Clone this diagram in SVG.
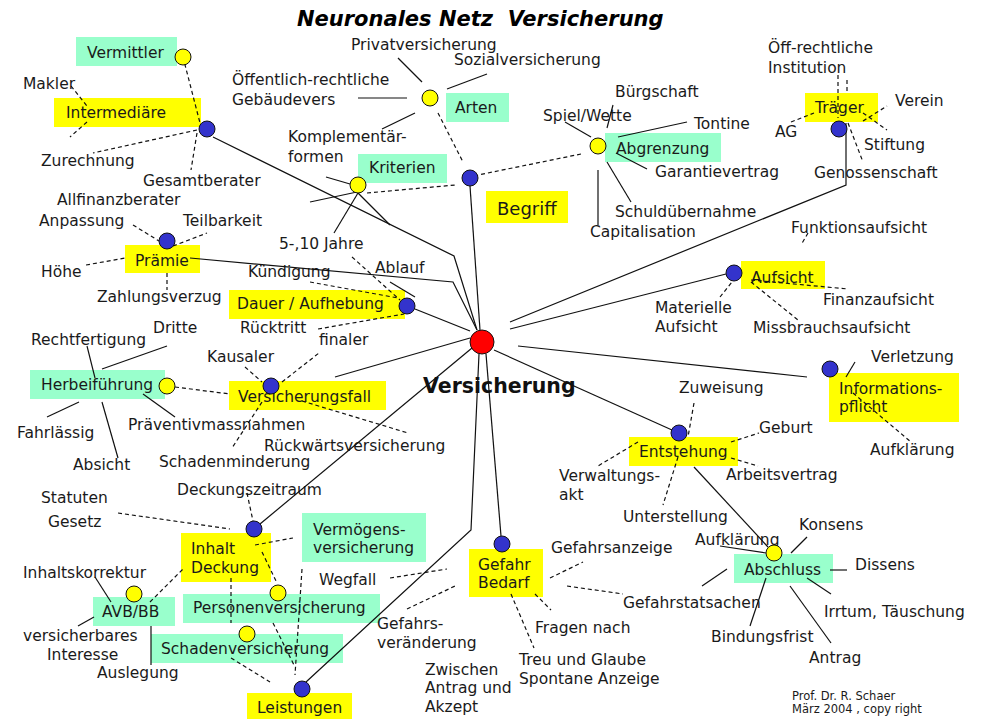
<svg xmlns="http://www.w3.org/2000/svg" width="981" height="719" viewBox="0 0 981 719">
<style>
.t{font-family:"DejaVu Sans",Verdana,sans-serif;font-size:15.5px;fill:#1a1a1a}
.s{font-family:"DejaVu Sans",Verdana,sans-serif;font-size:11.5px;fill:#1a1a1a}
.y{fill:#ffff00}
.c{fill:#99ffcc}
.l{stroke:#111;stroke-width:1.2;fill:none}
.d{stroke:#111;stroke-width:1.2;fill:none;stroke-dasharray:4 3}
.hb{fill:#3333cc;stroke:#111;stroke-width:1}
.hy{fill:#ffff00;stroke:#111;stroke-width:1}
</style>
<rect width="981" height="719" fill="#fff"/>
<text x="297" y="26" style="font-family:'DejaVu Sans',Verdana,sans-serif;font-size:21px;font-weight:bold;font-style:italic" fill="#000">Neuronales Netz&#160; Versicherung</text>

<g id="nodes">
<g id="n-vermittler"><rect class="c" x="76" y="37" width="101" height="29"/><text class="t" x="87" y="58">Vermittler</text></g>
<g id="n-intermediaere"><rect class="y" x="54" y="98" width="147" height="29"/><text class="t" x="66" y="118">Intermediäre</text></g>
<g id="n-arten"><rect class="c" x="446" y="93" width="63" height="29"/><text class="t" x="455" y="113">Arten</text></g>
<g id="n-kriterien"><rect class="c" x="358" y="154" width="89" height="29"/><text class="t" x="369" y="173">Kriterien</text></g>
<g id="n-abgrenzung"><rect class="c" x="605" y="133" width="116" height="29"/><text class="t" x="616" y="154">Abgrenzung</text></g>
<g id="n-begriff"><rect class="y" x="486" y="191" width="82" height="32"/><text class="t" x="497" y="215" style="font-size:18px">Begriff</text></g>
<g id="n-traeger"><rect class="y" x="805" y="93" width="73" height="29"/><text class="t" x="815" y="113">Träger</text></g>
<g id="n-praemie"><rect class="y" x="125" y="245" width="75" height="28"/><text class="t" x="135" y="266">Prämie</text></g>
<g id="n-dauer"><rect class="y" x="229" y="290" width="176" height="29"/><text class="t" x="237" y="309">Dauer / Aufhebung</text></g>
<g id="n-aufsicht"><rect class="y" x="741" y="261" width="84" height="28"/><text class="t" x="751" y="283">Aufsicht</text></g>
<g id="n-herbeifuehrung"><rect class="c" x="30" y="370" width="135" height="29"/><text class="t" x="41" y="390">Herbeiführung</text></g>
<g id="n-versicherungsfall"><rect class="y" x="229" y="381" width="157" height="29"/><text class="t" x="238" y="402">Versicherungsfall</text></g>
<g id="n-informationspflicht"><rect class="y" x="829" y="373" width="130" height="49"/><text class="t" x="839" y="394">Informations-</text><text class="t" x="839" y="412">pflicht</text></g>
<g id="n-entstehung"><rect class="y" x="629" y="437" width="109" height="29"/><text class="t" x="639" y="457">Entstehung</text></g>
<g id="n-inhalt"><rect class="y" x="181" y="533" width="90" height="49"/><text class="t" x="191" y="554">Inhalt</text><text class="t" x="191" y="573">Deckung</text></g>
<g id="n-vermoegens"><rect class="c" x="302" y="513" width="124" height="49"/><text class="t" x="313" y="535">Vermögens-</text><text class="t" x="313" y="553">versicherung</text></g>
<g id="n-gefahr"><rect class="y" x="469" y="549" width="74" height="48"/><text class="t" x="478" y="570">Gefahr</text><text class="t" x="478" y="588">Bedarf</text></g>
<g id="n-avb"><rect class="c" x="93" y="597" width="82" height="29"/><text class="t" x="102" y="617">AVB/BB</text></g>
<g id="n-personen"><rect class="c" x="183" y="594" width="197" height="29"/><text class="t" x="193" y="613">Personenversicherung</text></g>
<g id="n-schaden"><rect class="c" x="151" y="634" width="192" height="29"/><text class="t" x="161" y="654">Schadenversicherung</text></g>
<g id="n-leistungen"><rect class="y" x="247" y="693" width="105" height="26"/><text class="t" x="257" y="713">Leistungen</text></g>
<g id="n-abschluss"><rect class="c" x="734" y="554" width="99" height="29"/><text class="t" x="744" y="575">Abschluss</text></g>
<g id="n-center"><text x="423" y="393" style="font-family:'DejaVu Sans',Verdana,sans-serif;font-size:20.5px;font-weight:bold" fill="#111">Versicherung</text></g>
</g>

<g id="leaves" class="t">
<text class="t" x="23" y="89">Makler</text>
<text class="t" x="41" y="166">Zurechnung</text>
<text class="t" x="143" y="186">Gesamtberater</text>
<text class="t" x="57" y="205">Allfinanzberater</text>
<text class="t" x="39" y="226">Anpassung</text>
<text class="t" x="183" y="226">Teilbarkeit</text>
<text class="t" x="41" y="277">Höhe</text>
<text class="t" x="97" y="302">Zahlungsverzug</text>
<text class="t" x="351" y="50">Privatversicherung</text>
<text class="t" x="454" y="65">Sozialversicherung</text>
<text class="t" x="232" y="85">Öffentlich-rechtliche</text>
<text class="t" x="232" y="105">Gebäudevers</text>
<text class="t" x="288" y="142">Komplementär-</text>
<text class="t" x="288" y="162">formen</text>
<text class="t" x="279" y="249">5-,10 Jahre</text>
<text class="t" x="248" y="277">Kündigung</text>
<text class="t" x="375" y="273">Ablauf</text>
<text class="t" x="240" y="333">Rücktritt</text>
<text class="t" x="319" y="345">finaler</text>
<text class="t" x="207" y="362">Kausaler</text>
<text class="t" x="153" y="333">Dritte</text>
<text class="t" x="31" y="345">Rechtfertigung</text>
<text class="t" x="17" y="438">Fahrlässig</text>
<text class="t" x="73" y="470">Absicht</text>
<text class="t" x="128" y="430">Präventivmassnahmen</text>
<text class="t" x="159" y="467">Schadenminderung</text>
<text class="t" x="264" y="451">Rückwärtsversicherung</text>
<text class="t" x="177" y="495">Deckungszeitraum</text>
<text class="t" x="41" y="503">Statuten</text>
<text class="t" x="48" y="527">Gesetz</text>
<text class="t" x="23" y="578">Inhaltskorrektur</text>
<text class="t" x="23" y="641">versicherbares</text>
<text class="t" x="47" y="660">Interesse</text>
<text class="t" x="97" y="678">Auslegung</text>
<text class="t" x="319" y="585">Wegfall</text>
<text class="t" x="377" y="629">Gefahrs-</text>
<text class="t" x="377" y="648">veränderung</text>
<text class="t" x="425" y="675">Zwischen</text>
<text class="t" x="425" y="693">Antrag und</text>
<text class="t" x="425" y="712">Akzept</text>
<text class="t" x="551" y="553">Gefahrsanzeige</text>
<text class="t" x="623" y="608">Gefahrstatsachen</text>
<text class="t" x="535" y="633">Fragen nach</text>
<text class="t" x="519" y="665">Treu und Glaube</text>
<text class="t" x="519" y="684">Spontane Anzeige</text>
<text class="t" x="623" y="522">Unterstellung</text>
<text class="t" x="559" y="481">Verwaltungs-</text>
<text class="t" x="559" y="500">akt</text>
<text class="t" x="695" y="545">Aufklärung</text>
<text class="t" x="711" y="642">Bindungsfrist</text>
<text class="t" x="799" y="530">Konsens</text>
<text class="t" x="855" y="570">Dissens</text>
<text class="t" x="824" y="617">Irrtum, Täuschung</text>
<text class="t" x="809" y="663">Antrag</text>
<text class="t" x="679" y="393">Zuweisung</text>
<text class="t" x="759" y="433">Geburt</text>
<text class="t" x="726" y="480">Arbeitsvertrag</text>
<text class="t" x="871" y="362">Verletzung</text>
<text class="t" x="870" y="455">Aufklärung</text>
<text class="t" x="655" y="313">Materielle</text>
<text class="t" x="655" y="332">Aufsicht</text>
<text class="t" x="791" y="233">Funktionsaufsicht</text>
<text class="t" x="823" y="305">Finanzaufsicht</text>
<text class="t" x="753" y="333">Missbrauchsaufsicht</text>
<text class="t" x="768" y="53">Öff-rechtliche</text>
<text class="t" x="768" y="73">Institution</text>
<text class="t" x="775" y="137">AG</text>
<text class="t" x="895" y="106">Verein</text>
<text class="t" x="864" y="150">Stiftung</text>
<text class="t" x="814" y="178">Genossenschaft</text>
<text class="t" x="615" y="97">Bürgschaft</text>
<text class="t" x="543" y="121">Spiel/Wette</text>
<text class="t" x="694" y="129">Tontine</text>
<text class="t" x="655" y="177">Garantievertrag</text>
<text class="t" x="615" y="217">Schuldübernahme</text>
<text class="t" x="590" y="237">Capitalisation</text>
<text class="s" x="792" y="700">Prof. Dr. R. Schaer</text>
<text class="s" x="792" y="713">März 2004 , copy right</text>
</g>

<g id="connectors">
<polyline class="l" points="213,137 454,256 477,330"/>
<polyline class="l" points="190,258 453,282 477,330"/>
<line class="l" x1="470" y1="186" x2="480" y2="330"/>
<line class="l" x1="415" y1="309" x2="470" y2="331"/>
<line class="l" x1="335" y1="377" x2="470" y2="338"/>
<line class="l" x1="260" y1="524" x2="472" y2="348"/>
<polyline class="l" points="306,682 471,530 479,354"/>
<line class="l" x1="486" y1="354" x2="501" y2="536"/>
<line class="l" x1="494" y1="350" x2="672" y2="430"/>
<line class="l" x1="518" y1="346" x2="807" y2="377"/>
<line class="l" x1="510" y1="329" x2="726" y2="274"/>
<polyline class="l" points="510,322 846,185 846,123"/>
<line class="l" x1="694" y1="467" x2="768" y2="547"/>

<line class="l" x1="398" y1="58" x2="422" y2="82"/>
<line class="l" x1="447" y1="89" x2="487" y2="74"/>
<line class="l" x1="358" y1="98" x2="407" y2="98"/>
<line class="l" x1="382" y1="129" x2="415" y2="113"/>
<line class="l" x1="326" y1="177" x2="350" y2="184"/>
<line class="l" x1="310" y1="202" x2="357" y2="192"/>
<line class="l" x1="334" y1="233" x2="358" y2="193"/>
<line class="l" x1="358" y1="193" x2="390" y2="225"/>
<line class="l" x1="390" y1="282" x2="415" y2="297"/>
<line class="l" x1="565" y1="122" x2="591" y2="137"/>
<line class="l" x1="613" y1="105" x2="607" y2="128"/>
<line class="l" x1="618" y1="137" x2="687" y2="122"/>
<line class="l" x1="616" y1="153" x2="647" y2="169"/>
<line class="l" x1="607" y1="162" x2="631" y2="202"/>
<line class="l" x1="598" y1="170" x2="598" y2="225"/>
<line class="l" x1="102" y1="369" x2="167" y2="346"/>
<line class="l" x1="87" y1="346" x2="95" y2="378"/>
<line class="l" x1="47" y1="417" x2="79" y2="402"/>
<line class="l" x1="102" y1="402" x2="118" y2="458"/>
<line class="l" x1="143" y1="394" x2="175" y2="417"/>
<line class="l" x1="95" y1="577" x2="111" y2="602"/>
<line class="l" x1="78" y1="626" x2="94" y2="617"/>
<line class="l" x1="151" y1="626" x2="151" y2="665"/>
<line class="l" x1="846" y1="377" x2="855" y2="362"/>
<line class="l" x1="791" y1="553" x2="807" y2="537"/>
<line class="l" x1="830" y1="570" x2="847" y2="570"/>
<line class="l" x1="807" y1="578" x2="831" y2="594"/>
<line class="l" x1="790" y1="586" x2="831" y2="643"/>
<line class="l" x1="766" y1="578" x2="750" y2="626"/>
<line class="l" x1="720" y1="546" x2="766" y2="553"/>
<line class="l" x1="702" y1="586" x2="727" y2="569"/>

<line class="d" x1="183" y1="57" x2="200" y2="123"/>
<line class="d" x1="71" y1="86" x2="87" y2="106"/>
<line class="d" x1="87" y1="122" x2="70" y2="137"/>
<line class="d" x1="197" y1="130" x2="93" y2="153"/>
<line class="d" x1="197" y1="133" x2="191" y2="170"/>
<line class="d" x1="133" y1="225" x2="159" y2="241"/>
<line class="d" x1="173" y1="246" x2="207" y2="233"/>
<line class="d" x1="86" y1="265" x2="125" y2="258"/>
<line class="d" x1="167" y1="273" x2="167" y2="290"/>
<line class="d" x1="438" y1="113" x2="463" y2="162"/>
<line class="d" x1="367" y1="193" x2="455" y2="185"/>
<line class="d" x1="581" y1="154" x2="478" y2="175"/>
<line class="d" x1="838" y1="75" x2="838" y2="118"/>
<line class="d" x1="847" y1="80" x2="847" y2="92"/>
<line class="d" x1="791" y1="122" x2="814" y2="113"/>
<line class="d" x1="863" y1="121" x2="887" y2="106"/>
<line class="d" x1="863" y1="113" x2="887" y2="130"/>
<line class="d" x1="848" y1="123" x2="863" y2="162"/>
<line class="d" x1="352" y1="257" x2="400" y2="300"/>
<line class="d" x1="310" y1="282" x2="398" y2="298"/>
<line class="d" x1="318" y1="329" x2="404" y2="314"/>
<line class="d" x1="245" y1="367" x2="262" y2="382"/>
<line class="d" x1="282" y1="382" x2="319" y2="353"/>
<line class="d" x1="302" y1="401" x2="408" y2="433"/>
<line class="d" x1="262" y1="402" x2="232" y2="448"/>
<line class="d" x1="175" y1="387" x2="230" y2="394"/>
<line class="d" x1="720" y1="297" x2="732" y2="282"/>
<line class="d" x1="808" y1="233" x2="801" y2="245"/>
<line class="d" x1="751" y1="280" x2="848" y2="289"/>
<line class="d" x1="751" y1="282" x2="798" y2="320"/>
<line class="d" x1="853" y1="393" x2="911" y2="442"/>
<line class="d" x1="694" y1="403" x2="688" y2="437"/>
<line class="d" x1="638" y1="442" x2="598" y2="466"/>
<line class="d" x1="731" y1="442" x2="759" y2="433"/>
<line class="d" x1="731" y1="458" x2="758" y2="466"/>
<line class="d" x1="678" y1="457" x2="663" y2="505"/>
<line class="d" x1="247" y1="493" x2="253" y2="521"/>
<line class="d" x1="118" y1="513" x2="230" y2="529"/>
<line class="d" x1="150" y1="602" x2="183" y2="569"/>
<line class="d" x1="231" y1="578" x2="231" y2="623"/>
<line class="d" x1="255" y1="545" x2="293" y2="538"/>
<line class="d" x1="262" y1="552" x2="277" y2="583"/>
<line class="d" x1="302" y1="569" x2="295" y2="675"/>
<line class="d" x1="273" y1="623" x2="294" y2="665"/>
<line class="d" x1="231" y1="658" x2="270" y2="682"/>
<line class="d" x1="390" y1="578" x2="447" y2="569"/>
<line class="d" x1="407" y1="609" x2="455" y2="586"/>
<line class="d" x1="550" y1="578" x2="583" y2="562"/>
<line class="d" x1="567" y1="586" x2="623" y2="594"/>
<line class="d" x1="535" y1="594" x2="551" y2="610"/>
<line class="d" x1="511" y1="594" x2="534" y2="648"/>
</g>

<g id="hubs">
<g id="h-center"><circle cx="482" cy="342" r="12" fill="#ff0000" stroke="#111" stroke-width="1"/></g>
<g id="h-vermittler"><circle class="hy" cx="183" cy="57" r="8"/></g>
<g id="h-intermediaere"><circle class="hb" cx="207" cy="129" r="8"/></g>
<g id="h-arten"><circle class="hy" cx="430" cy="98" r="8"/></g>
<g id="h-kriterien"><circle class="hy" cx="358" cy="185" r="8"/></g>
<g id="h-begriff"><circle class="hb" cx="470" cy="178" r="8"/></g>
<g id="h-abgrenzung"><circle class="hy" cx="598" cy="146" r="8"/></g>
<g id="h-traeger"><circle class="hb" cx="839" cy="129" r="8"/></g>
<g id="h-praemie"><circle class="hb" cx="167" cy="241" r="8"/></g>
<g id="h-dauer"><circle class="hb" cx="407" cy="306" r="8"/></g>
<g id="h-aufsicht"><circle class="hb" cx="734" cy="273" r="8"/></g>
<g id="h-herbeifuehrung"><circle class="hy" cx="167" cy="386" r="8"/></g>
<g id="h-versicherungsfall"><circle class="hb" cx="271" cy="386" r="8"/></g>
<g id="h-informationspflicht"><circle class="hb" cx="830" cy="369" r="8"/></g>
<g id="h-entstehung"><circle class="hb" cx="679" cy="433" r="8"/></g>
<g id="h-inhalt"><circle class="hb" cx="254" cy="529" r="8"/></g>
<g id="h-personen"><circle class="hy" cx="278" cy="593" r="8"/></g>
<g id="h-schaden"><circle class="hy" cx="247" cy="634" r="8"/></g>
<g id="h-avb"><circle class="hy" cx="134" cy="594" r="8"/></g>
<g id="h-leistungen"><circle class="hb" cx="302" cy="689" r="8"/></g>
<g id="h-gefahr"><circle class="hb" cx="502" cy="544" r="8"/></g>
<g id="h-abschluss"><circle class="hy" cx="774" cy="553" r="8"/></g>
</g>
</svg>
